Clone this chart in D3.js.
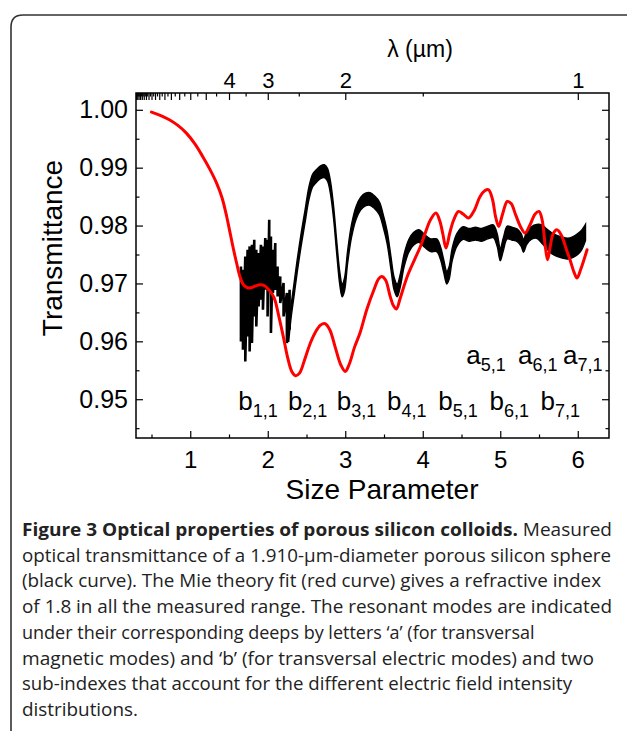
<!DOCTYPE html>
<html><head><meta charset="utf-8">
<script src="https://cdn.jsdelivr.net/npm/d3@7"></script>
<style>
body{margin:0;background:#fff}
svg{display:block}
.ax text{font-family:"Liberation Sans",Arial,Helvetica,sans-serif;fill:#000}
</style>
</head><body>
<svg id="c" width="627" height="731"></svg>
<script>
// ---------- data ----------
// Mie theory fit (red)
const redX = [0.50,0.62,0.73,0.84,0.95,1.06,1.16,1.25,1.34,1.41,1.47,1.51,1.55,1.60,1.64,1.68,1.73,1.78,1.84,1.90,1.96,2.02,2.08,2.14,2.20,2.26,2.31,2.36,2.41,2.48,2.55,2.62,2.68,2.74,2.80,2.87,2.94,3.00,3.05,3.12,3.19,3.28,3.37,3.43,3.47,3.52,3.58,3.62,3.66,3.71,3.80,3.89,3.97,4.04,4.10,4.17,4.22,4.26,4.30,4.35,4.40,4.46,4.52,4.59,4.66,4.74,4.80,4.85,4.90,4.94,4.98,5.03,5.09,5.14,5.20,5.26,5.32,5.38,5.45,5.50,5.54,5.58,5.61,5.64,5.68,5.73,5.79,5.85,5.90,5.95,5.99,6.04,6.12];
const redY = [0.99960,0.99900,0.99827,0.99730,0.99597,0.99410,0.99194,0.98980,0.98734,0.98480,0.98157,0.97900,0.97639,0.97340,0.97121,0.96990,0.96930,0.96925,0.96955,0.96978,0.96960,0.96880,0.96760,0.96450,0.96085,0.95700,0.95480,0.95406,0.95450,0.95700,0.95971,0.96170,0.96280,0.96304,0.96200,0.95900,0.95600,0.95480,0.95600,0.95900,0.96143,0.96560,0.96891,0.97080,0.97121,0.97060,0.96776,0.96620,0.96557,0.96750,0.97121,0.97400,0.97639,0.97900,0.98100,0.98216,0.98080,0.97850,0.97611,0.97880,0.98100,0.98244,0.98200,0.98130,0.98250,0.98503,0.98600,0.98618,0.98450,0.98150,0.97985,0.98200,0.98416,0.98380,0.98180,0.97985,0.97870,0.98000,0.98200,0.98244,0.98100,0.97650,0.97409,0.97600,0.97850,0.97927,0.97830,0.97600,0.97409,0.97200,0.97093,0.97250,0.97582];

// Measured transmittance (black): noisy low-x part (x, upper, lower)
const noiseX  = [1.654,1.680,1.710,1.740,1.766,1.796,1.826,1.852,1.882,1.912,1.938,1.968,1.998,2.019,2.041,2.067,2.097,2.127,2.161,2.204,2.247,2.282];
const noiseHi = [0.97294,0.97237,0.97467,0.97582,0.97640,0.97668,0.97755,0.97582,0.97525,0.97668,0.97640,0.97784,0.97755,0.98100,0.97812,0.97582,0.97697,0.97294,0.97122,0.97007,0.96834,0.96891];
const noiseLo = [0.95998,0.95855,0.95653,0.96085,0.95826,0.95970,0.96430,0.96258,0.96603,0.96718,0.96546,0.96891,0.96430,0.96891,0.96143,0.96834,0.96891,0.96776,0.96661,0.96430,0.95970,0.96200];

// Measured transmittance (black): band envelope for the rest
const bandX  = [2.27,2.30,2.34,2.38,2.43,2.48,2.53,2.58,2.63,2.68,2.73,2.77,2.81,2.85,2.89,2.93,2.96,2.99,3.03,3.08,3.14,3.20,3.26,3.32,3.38,3.44,3.49,3.54,3.59,3.63,3.67,3.71,3.76,3.82,3.88,3.95,4.02,4.10,4.18,4.23,4.27,4.31,4.34,4.38,4.44,4.52,4.60,4.68,4.76,4.84,4.91,4.96,5.00,5.04,5.09,5.15,5.22,5.27,5.30,5.34,5.40,5.47,5.54,5.60,5.66,5.73,5.80,5.87,5.94,6.00,6.05,6.10];
const bandHi = [0.9621,0.9661,0.9701,0.9741,0.9786,0.9826,0.9866,0.9889,0.9897,0.9903,0.9905,0.9899,0.9876,0.9833,0.9773,0.9719,0.9699,0.9709,0.9756,0.9801,0.9833,0.9849,0.9856,0.9857,0.9851,0.9841,0.9819,0.9791,0.9746,0.9711,0.9699,0.9716,0.9751,0.9776,0.9788,0.9793,0.9785,0.9777,0.9777,0.9763,0.9741,0.9721,0.9729,0.9761,0.9786,0.9798,0.9795,0.9797,0.9795,0.9799,0.9801,0.9786,0.9761,0.9779,0.9799,0.9797,0.9794,0.9786,0.9776,0.9789,0.9798,0.9802,0.9801,0.9794,0.9788,0.9783,0.9780,0.9778,0.9781,0.9786,0.9792,0.9802];
const bandLo = [0.9599,0.9639,0.9679,0.9719,0.9764,0.9804,0.9844,0.9867,0.9875,0.9881,0.9883,0.9877,0.9854,0.9811,0.9751,0.9697,0.9677,0.9687,0.9734,0.9779,0.9811,0.9827,0.9834,0.9835,0.9829,0.9819,0.9797,0.9769,0.9724,0.9689,0.9677,0.9694,0.9729,0.9754,0.9766,0.9771,0.9763,0.9755,0.9755,0.9741,0.9719,0.9699,0.9707,0.9739,0.9764,0.9776,0.9773,0.9775,0.9773,0.9777,0.9779,0.9764,0.9739,0.9757,0.9777,0.9775,0.9772,0.9764,0.9754,0.9767,0.9776,0.9778,0.9769,0.9760,0.9752,0.9747,0.9744,0.9742,0.9745,0.9750,0.9758,0.9774];

// axes
const xTicks = [1,2,3,4,5,6];
const xMinor = [0.5,1.5,2.5,3.5,4.5,5.5];
const yTicks = [0.95,0.96,0.97,0.98,0.99,1.00];
const yMinor = [0.945,0.955,0.965,0.975,0.985,0.995];
const lambdaLabeled = [1,2,3,4];
const lambdaMajor = [1,2,3,4,5,6,7,8,9,10,11,12,13,14,15,16,17,18,19,20];
const lambdaMinor = [1.5,2.5,3.5,4.5,5.5,6.5,7.5,8.5,9.5,10.5,11.5,12.5,13.5,14.5,15.5,16.5,17.5,18.5,19.5];
const diameter = 1.910; // µm, size parameter = pi*d/lambda

// mode labels
const bModes = ["1,1","2,1","3,1","4,1","5,1","6,1","7,1"];
const bModeX = [1.62,2.26,2.89,3.54,4.20,4.86,5.52];
const bModeY = 0.9482;
const aModes = ["5,1","6,1","7,1"];
const aModeX = [4.56,5.23,5.81];
const aModeY = 0.9560;

const captionBold = "Figure 3 Optical properties of porous silicon colloids.";
const captionLines = [
 " Measured",
 "optical transmittance of a 1.910-\u00b5m-diameter porous silicon sphere",
 "(black curve). The Mie theory fit (red curve) gives a refractive index",
 "of 1.8 in all the measured range. The resonant modes are indicated",
 "under their corresponding deeps by letters \u2018a\u2019 (for transversal",
 "magnetic modes) and \u2018b\u2019 (for transversal electric modes) and two",
 "sub-indexes that account for the different electric field intensity",
 "distributions."
];
const captionRight = [612,611,601,612,505,599,572,138];

// ---------- drawing ----------
const svg = d3.select("#c");
const L=136, R=609, T=93, B=438;
const x = d3.scaleLinear().domain([0.3, 6.403]).range([L, R]);
const y = d3.scaleLinear().domain([0.9433, 1.0029]).range([B, T]);
const F = "'Liberation Sans',Arial,Helvetica,sans-serif";

// outer frame
svg.append("path")
  .attr("d", "M11,731 L11,27 Q11,15 23,15 L627,15")
  .attr("fill","none").attr("stroke","#333").attr("stroke-width",1.6);

const plot = svg.append("g");

// black band
const band = bandX.map((v,i)=>({x:v,hi:bandHi[i],lo:bandLo[i]}));
plot.append("path").datum(band)
  .attr("d", d3.area().x(d=>x(d.x)).y0(d=>y(d.lo)).y1(d=>y(d.hi)).curve(d3.curveCatmullRom))
  .attr("fill","#000").attr("stroke","#000").attr("stroke-width",1.4);

// black noisy part
const zig = [];
noiseX.forEach((v,i)=>{ zig.push([x(v),y(noiseHi[i])]); zig.push([x(v),y(noiseLo[i])]); });
plot.append("path").attr("d", d3.line()(zig))
  .attr("fill","none").attr("stroke","#000").attr("stroke-width",2.6).attr("stroke-linejoin","miter");

// red fit
const red = redX.map((v,i)=>[v,redY[i]]);
plot.append("path").datum(red)
  .attr("d", d3.line().x(d=>x(d[0])).y(d=>y(d[1])).curve(d3.curveCatmullRom))
  .attr("fill","none").attr("stroke","#ff0000").attr("stroke-width",3).attr("stroke-linecap","round");

// axes
function styleAxis(g){
  g.select(".domain").remove();
  g.selectAll(".tick line").attr("stroke","#000").attr("stroke-width",1.2);
  g.attr("class","ax");
}
svg.append("g").attr("transform",`translate(0,${B})`)
  .call(d3.axisBottom(x).tickValues(xTicks).tickSize(-7).tickPadding(13).tickFormat(d3.format("d")))
  .call(styleAxis).call(g=>g.selectAll("text").attr("font-size",24).attr("font-family",F));
svg.append("g").attr("transform",`translate(0,${B})`)
  .call(d3.axisBottom(x).tickValues(xMinor).tickSize(-3.5).tickFormat(""))
  .call(styleAxis);
svg.append("g").attr("transform",`translate(${L},0)`)
  .call(d3.axisLeft(y).tickValues(yTicks).tickSize(-7).tickPadding(8).tickFormat(d3.format(".2f")))
  .call(styleAxis).call(g=>g.selectAll("text").attr("font-size",25).attr("font-family",F));
svg.append("g").attr("transform",`translate(${L},0)`)
  .call(d3.axisLeft(y).tickValues(yMinor).tickSize(-3.5).tickFormat(""))
  .call(styleAxis);
svg.append("g").attr("transform",`translate(${R},0)`)
  .call(d3.axisRight(y).tickValues(yTicks).tickSize(-7).tickFormat(""))
  .call(styleAxis);
svg.append("g").attr("transform",`translate(${R},0)`)
  .call(d3.axisRight(y).tickValues(yMinor).tickSize(-3.5).tickFormat(""))
  .call(styleAxis);
// top wavelength axis
const K = Math.PI*diameter;
svg.append("g").attr("transform",`translate(0,${T})`)
  .call(d3.axisTop(x).tickValues(lambdaMajor.map(l=>K/l)).tickSize(-7)
        .tickFormat(d=>{const l=Math.round(K/d); return lambdaLabeled.includes(l)? String(l):"";}).tickPadding(5))
  .call(styleAxis).call(g=>g.selectAll("text").attr("font-size",22).attr("font-family",F));
svg.append("g").attr("transform",`translate(0,${T})`)
  .call(d3.axisTop(x).tickValues(lambdaMinor.map(l=>K/l)).tickSize(-3.5).tickFormat(""))
  .call(styleAxis);

// frame
svg.append("rect").attr("x",L).attr("y",T).attr("width",R-L).attr("height",B-T)
  .attr("fill","none").attr("stroke","#000").attr("stroke-width",1.5);

// titles
svg.append("text").attr("x",420).attr("y",57).attr("text-anchor","middle")
  .attr("font-family",F).attr("font-size",23).text("\u03bb (\u00b5m)");
svg.append("text").attr("x",382).attr("y",499).attr("text-anchor","middle")
  .attr("font-family",F).attr("font-size",28).text("Size Parameter");
svg.append("text").attr("transform","translate(62,248) rotate(-90)").attr("text-anchor","middle")
  .attr("font-family",F).attr("font-size",28).text("Transmittance");

// mode labels
function modeLabel(letter, sub, xv, yv){
  const t = svg.append("text").attr("x",x(xv)).attr("y",y(yv)).attr("font-family",F).attr("font-size",26);
  t.append("tspan").text(letter);
  t.append("tspan").attr("font-size",18).attr("dy",7).text(sub);
}
bModes.forEach((s,i)=>modeLabel("b",s,bModeX[i],bModeY));
aModes.forEach((s,i)=>modeLabel("a",s,aModeX[i],aModeY));

// caption
const CF = "'Open Sans','Noto Sans',sans-serif";
captionLines.forEach((line,i)=>{
  const t = svg.append("text").attr("x",22).attr("y",536+25.7*i)
    .attr("font-family",CF).attr("font-size",18).attr("fill","#222");
  if(i===0){ t.append("tspan").attr("font-weight","bold").text(captionBold); }
  t.append("tspan").text(line);
  const w = t.node().getComputedTextLength();
  const target = captionRight[i]-22;
  // stretch slightly to reach the reference line ends, never squeeze
  const fit = Math.max(w, Math.min(w*1.06, target));
  if (Math.abs(w-fit) > 2) t.attr("textLength",fit).attr("lengthAdjust","spacingAndGlyphs");
});
</script>
</body></html>
